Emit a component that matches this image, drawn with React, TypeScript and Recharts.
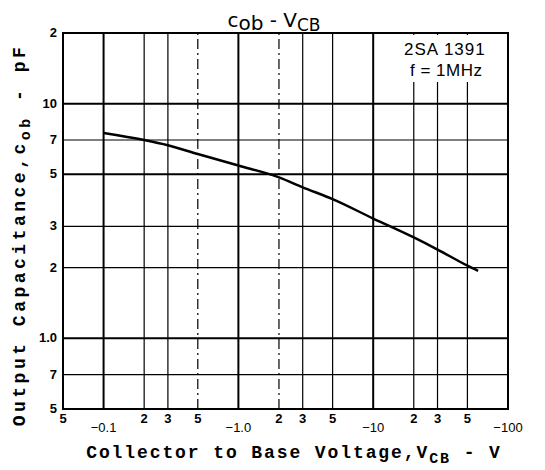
import {
  LineChart,
  Line,
  XAxis,
  YAxis,
  ReferenceLine,
  ReferenceArea,
} from "recharts";

// |VCB| in volts (axis is negative voltage, drawn by magnitude)
const vcb = [0.1, 0.2, 0.3, 0.5, 1, 2, 3, 5, 10, 20, 30, 50, 60];
const cob = [7.5, 7.0, 6.65, 6.1, 5.45, 4.85, 4.4, 3.92, 3.24, 2.69, 2.39, 2.04, 1.94];

const xTicks = [0.05, 0.1, 0.2, 0.3, 0.5, 1, 2, 3, 5, 10, 20, 30, 50, 100];
const xTickLabels = ["5", "-0.1", "2", "3", "5", "-1.0", "2", "3", "5", "-10", "2", "3", "5", "-100"];
const xMajor = [0.1, 1, 10];
const xDashed = [0.5, 2];

const yTicks = [0.5, 0.7, 1, 2, 3, 5, 7, 10, 20];
const yTickLabels = ["5", "7", "1.0", "2", "3", "5", "7", "10", "2"];
const yMajor = [1, 5, 10];

const data = vcb.map((v, i) => ({ v, c: cob[i] }));

const XTick = (props: any) => {
  const { x, y, index } = props;
  const label = xTickLabels[index];
  const major = label.startsWith("-");
  return (
    <text
      x={x}
      y={y + (major ? 23 : 14)}
      textAnchor="middle"
      fontFamily="Liberation Sans"
      fontSize={13}
      fontWeight={major ? 400 : 700}
      fill="#000"
    >
      {label.replace("-", "\u2212")}
    </text>
  );
};

const YTick = (props: any) => {
  const { x, y, index } = props;
  return (
    <text
      x={x - 6}
      y={y + 4}
      textAnchor="end"
      fontFamily="Liberation Sans"
      fontSize={13}
      fontWeight={700}
      fill="#000"
    >
      {yTickLabels[index]}
    </text>
  );
};

export default function App() {
  return (
    <div style={{ position: "relative", width: 537, height: 462 }}>
      <LineChart
        width={537}
        height={462}
        data={data}
        margin={{ top: 25, right: 37, left: 0, bottom: 0 }}
      >
        <XAxis
          dataKey="v"
          type="number"
          scale="log"
          domain={[0.05, 100]}
          ticks={xTicks}
          interval={0}
          allowDataOverflow
          axisLine={false}
          tickLine={false}
          tickSize={0}
          tickMargin={0}
          height={61}
          tick={<XTick />}
        />
        <YAxis
          type="number"
          scale="log"
          domain={[0.5, 20]}
          ticks={yTicks}
          interval={0}
          allowDataOverflow
          axisLine={false}
          tickLine={false}
          tickSize={0}
          tickMargin={0}
          width={55}
          tick={<YTick />}
        />

        {xTicks.map((t) => (
          <ReferenceLine
            key={`vx-${t}`}
            x={t}
            stroke="#000"
            strokeWidth={xMajor.includes(t) ? 2 : 1.2}
            strokeDasharray={xDashed.includes(t) ? "10 4 2 4" : undefined}
          />
        ))}
        {yTicks.map((t) => (
          <ReferenceLine
            key={`hy-${t}`}
            y={t}
            stroke="#000"
            strokeWidth={yMajor.includes(t) ? 2 : 1.2}
          />
        ))}

        <ReferenceArea
          x1={0.05}
          x2={100}
          y1={0.5}
          y2={20}
          fill="none"
          stroke="#000"
          strokeWidth={2}
        />

        <Line
          type="monotone"
          dataKey="c"
          stroke="#000"
          strokeWidth={2.5}
          dot={false}
          isAnimationActive={false}
        />

        <text x={266} y={19} textAnchor="middle" fontFamily="DejaVu Sans" fontSize={20} fill="#000">
          c<tspan dy={3}>ob</tspan>
          <tspan dy={-3}>{"  -  V"}</tspan>
          <tspan dy={4} fontSize={17}>CB</tspan>
        </text>

        <text
          x={286}
          y={450}
          textAnchor="middle"
          fontFamily="Liberation Mono"
          fontWeight={700}
          fontSize={18}
          letterSpacing={1.9}
          fill="#000"
        >
          Collector to Base Voltage,V<tspan dy={5} fontSize={15}>CB</tspan>
          <tspan dy={-5}>{" - V"}</tspan>
        </text>

        <text
          x={17}
          y={227}
          transform="rotate(-90 17 227)"
          textAnchor="middle"
          fontFamily="Liberation Mono"
          fontWeight={700}
          fontSize={18}
          letterSpacing={3.5}
          fill="#000"
        >
          Output Capacitance,c<tspan dy={5} fontSize={15}>ob</tspan>
          <tspan dy={-5}>{" - pF"}</tspan>
        </text>
      </LineChart>

      {/* part label box over the top-right grid */}
      <svg
        width={537}
        height={462}
        style={{ position: "absolute", left: 0, top: 0, pointerEvents: "none" }}
      >
        <rect x={396} y={27} width={102} height={47} fill="#fff" />
        <text x={396} y={47} fontFamily="Liberation Sans" fontSize={17} letterSpacing={1} fill="#000">
          2SA 1391
        </text>
        <text x={402} y={68} fontFamily="Liberation Sans" fontSize={17} letterSpacing={0.5} fill="#000">
          f = 1MHz
        </text>
      </svg>
    </div>
  );
}
